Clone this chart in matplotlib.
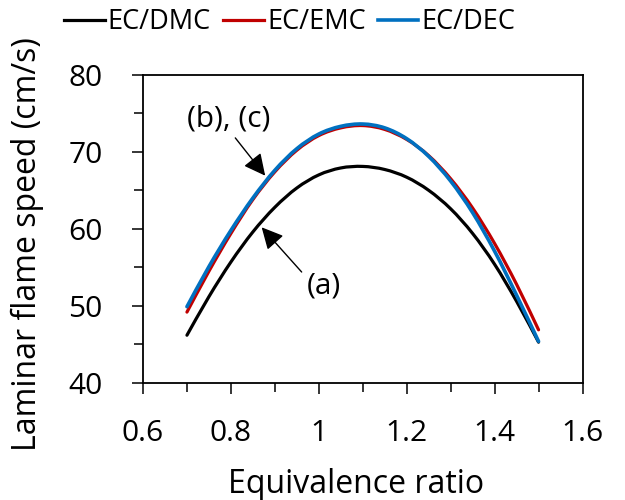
import numpy as np
import matplotlib
matplotlib.use("Agg")
import matplotlib.pyplot as plt
from matplotlib.path import Path
from matplotlib.patches import PathPatch
from matplotlib.lines import Line2D

plt.rcParams['font.family'] = ['Open Sans', 'DejaVu Sans']

# equivalence ratio
phi = [0.70, 0.75, 0.80, 0.85, 0.90, 0.95, 1.00, 1.05, 1.10,
       1.15, 1.20, 1.25, 1.30, 1.35, 1.40, 1.45, 1.50]

# laminar flame speed (cm/s)
s_dmc = [46.2, 51.2, 55.7, 59.6, 62.8, 65.3, 67.0, 67.9, 68.1,
         67.7, 66.7, 65.0, 62.6, 59.4, 55.4, 50.6, 45.3]
s_emc = [49.2, 54.5, 59.4, 63.8, 67.4, 70.2, 72.1, 73.1, 73.4,
         72.9, 71.6, 69.5, 66.5, 62.7, 58.1, 52.8, 46.9]
s_dec = [49.9, 55.1, 59.8, 64.0, 67.6, 70.4, 72.3, 73.3, 73.6,
         73.1, 71.7, 69.4, 66.2, 62.1, 57.1, 51.4, 45.4]

series = [('EC/DMC', s_dmc, 'black', 2.3),
          ('EC/EMC', s_emc, '#C00000', 2.3),
          ('EC/DEC', s_dec, '#0070C0', 2.6)]


def smooth_path(x, y):
    # excel-style smoothed line: bezier segments through the data points
    p = np.column_stack([x, y])
    ext = np.vstack([p[0], p, p[-1]])
    verts = [p[0]]
    codes = [Path.MOVETO]
    for i in range(1, len(ext) - 2):
        p0, p1, p2, p3 = ext[i - 1], ext[i], ext[i + 1], ext[i + 2]
        verts += [p1 + (p2 - p0) / 6, p2 - (p3 - p1) / 6, p2]
        codes += [Path.CURVE4] * 3
    return Path(verts, codes)


fig = plt.figure(figsize=(6.25, 5), dpi=100)
ax = fig.add_axes([0.2288, 0.234, 0.7032, 0.6166])

handles = []
for name, s, c, lw in series:
    ax.add_patch(PathPatch(smooth_path(phi, s), fill=False, edgecolor=c,
                           lw=lw, capstyle='round', joinstyle='round'))
    handles.append(Line2D([], [], color=c, lw=lw, label=name))

ax.set_xlim(0.6, 1.6)
ax.set_ylim(40, 80)
ax.set_xticks([0.6, 0.8, 1.0, 1.2, 1.4, 1.6])
ax.set_xticklabels(['0.6', '0.8', '1', '1.2', '1.4', '1.6'])
ax.set_xticks(np.arange(0.7, 1.6, 0.2), minor=True)
ax.set_yticks([40, 50, 60, 70, 80])
ax.set_yticks([45, 55, 65, 75], minor=True)

ax.tick_params(which='major', direction='out', length=8, width=1.1,
               labelsize=21.5, pad=18)
ax.tick_params(axis='y', which='major', pad=21)
ax.tick_params(which='minor', direction='out', length=6.5, width=1.1)
for sp in ax.spines.values():
    sp.set_linewidth(1.3)

fig.text(0.044, 0.512, 'Laminar flame speed (cm/s)', rotation=90,
         ha='center', va='center', fontsize=23)
fig.text(0.5696, 0.031, 'Equivalence ratio', ha='center', va='center',
         fontsize=23)

arrow = dict(arrowstyle='-|>,head_length=0.6,head_width=0.3', color='black',
             lw=1, mutation_scale=22, shrinkA=0, shrinkB=0)
ax.annotate('', xy=(0.878, 66.9), xytext=(0.810, 71.8), arrowprops=arrow)
ax.text(0.794, 74.2, '(b), (c)', fontsize=21.5, ha='center', va='center')
ax.annotate('', xy=(0.870, 60.2), xytext=(0.961, 54.4), arrowprops=arrow)
ax.text(1.012, 52.6, '(a)', fontsize=21.5, ha='center', va='center')

ax.legend(handles=handles, loc='center', bbox_to_anchor=(0.334, 1.17),
          ncol=3, frameon=False, fontsize=19.5, handlelength=1.5,
          handletextpad=0.12, columnspacing=0.45, borderaxespad=0,
          borderpad=0)

fig.savefig('out.png', dpi=100)
